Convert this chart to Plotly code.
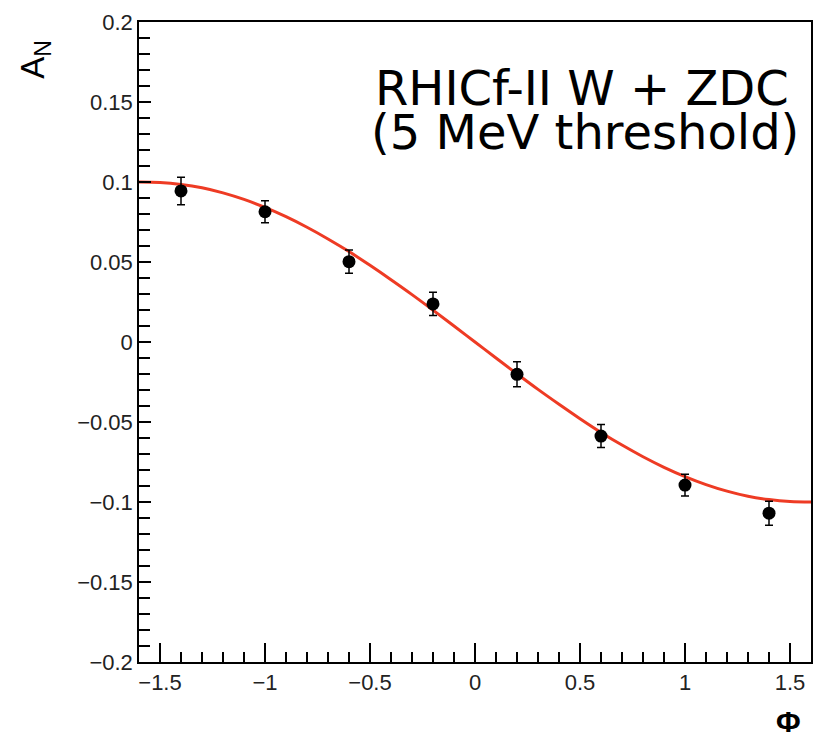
import plotly.graph_objects as go

# Data points (phi, A_N, error)
phi = [-1.4, -1.0, -0.6, -0.2, 0.2, 0.6, 1.0, 1.4]
an = [0.0944, 0.0814, 0.0502, 0.0238, -0.0202, -0.0588, -0.0894, -0.1070]
an_err = [0.0086, 0.0069, 0.0073, 0.0073, 0.0078, 0.0072, 0.0068, 0.0075]

# Fit curve
fit_phi = [-1.6, -1.5, -1.4, -1.3, -1.2, -1.1, -1.0, -0.9, -0.8, -0.7, -0.6, -0.5,
           -0.4, -0.3, -0.2, -0.1, 0.0, 0.1, 0.2, 0.3, 0.4, 0.5, 0.6, 0.7, 0.8,
           0.9, 1.0, 1.1, 1.2, 1.3, 1.4, 1.5, 1.6]
fit_an = [0.1000, 0.0997, 0.0985, 0.0964, 0.0932, 0.0891, 0.0841, 0.0783, 0.0717,
          0.0644, 0.0565, 0.0479, 0.0389, 0.0296, 0.0199, 0.0100, 0.0,
          -0.0100, -0.0199, -0.0296, -0.0389, -0.0479, -0.0565, -0.0644, -0.0717,
          -0.0783, -0.0841, -0.0891, -0.0932, -0.0964, -0.0985, -0.0997, -0.1000]

x_ticks = [-1.5, -1, -0.5, 0, 0.5, 1, 1.5]
x_ticklabels = ["\u22121.5", "\u22121", "\u22120.5", "0", "0.5", "1", "1.5"]
y_ticks = [-0.2, -0.15, -0.1, -0.05, 0, 0.05, 0.1, 0.15, 0.2]
y_ticklabels = ["\u22120.2", "\u22120.15", "\u22120.1", "\u22120.05", "0", "0.05", "0.1", "0.15", "0.2"]

W, H = 819, 740
L, R, T, B = 139, 6, 22, 78

fig = go.Figure()
fig.add_trace(go.Scatter(x=fit_phi, y=fit_an, mode="lines", line=dict(color="#ee3b24", width=3, shape="spline"),
                         showlegend=False, hoverinfo="skip"))
fig.add_trace(go.Scatter(x=phi, y=an, mode="markers",
                         marker=dict(color="black", size=13),
                         error_y=dict(type="data", array=an_err, color="black", thickness=1.5, width=4),
                         showlegend=False))

axis_common = dict(showgrid=False, zeroline=False, showline=True, linecolor="black", linewidth=1.5,
                   mirror=True, ticks="inside", tickcolor="black", tickwidth=1.5,
                   tickfont=dict(family="Liberation Sans", size=22, color="#222222"))

fig.update_xaxes(range=[-1.6, 1.6], tickvals=x_ticks, ticktext=x_ticklabels, ticklen=19,
                 minor=dict(ticks="inside", dtick=0.1, tick0=0, ticklen=10, tickcolor="black", tickwidth=1.5),
                 **axis_common)
fig.update_yaxes(range=[-0.2, 0.2], tickvals=y_ticks, ticktext=y_ticklabels, ticklen=12,
                 minor=dict(ticks="inside", dtick=0.01, tick0=0, ticklen=11, tickcolor="black", tickwidth=1.5),
                 **axis_common)

pw = W - L - R
ph = H - T - B

def px(xp):
    return (xp - L) / pw

def py(yp):
    return (H - B - yp) / ph

annotations = [
    dict(text="RHICf-II W + ZDC", x=px(374), y=py(88), xref="paper", yref="paper",
         xanchor="left", yanchor="middle", showarrow=False,
         font=dict(family="DejaVu Sans", size=48, color="black")),
    dict(text="(5 MeV threshold)", x=px(370), y=py(132), xref="paper", yref="paper",
         xanchor="left", yanchor="middle", showarrow=False,
         font=dict(family="DejaVu Sans", size=48, color="black")),
    dict(text="A<sub>N</sub>", x=px(34), y=py(38), xref="paper", yref="paper",
         xanchor="center", yanchor="top", textangle=-90, showarrow=False,
         font=dict(family="Liberation Sans", size=33, color="black")),
    dict(text="<b>\u03a6</b>", x=px(790), y=py(721), xref="paper", yref="paper",
         xanchor="center", yanchor="middle", showarrow=False,
         font=dict(family="Liberation Sans", size=30, color="black")),
]

fig.update_layout(width=W, height=H, margin=dict(l=L, r=R, t=T, b=B),
                  paper_bgcolor="white", plot_bgcolor="white",
                  annotations=annotations)

fig.write_html("out.html")
